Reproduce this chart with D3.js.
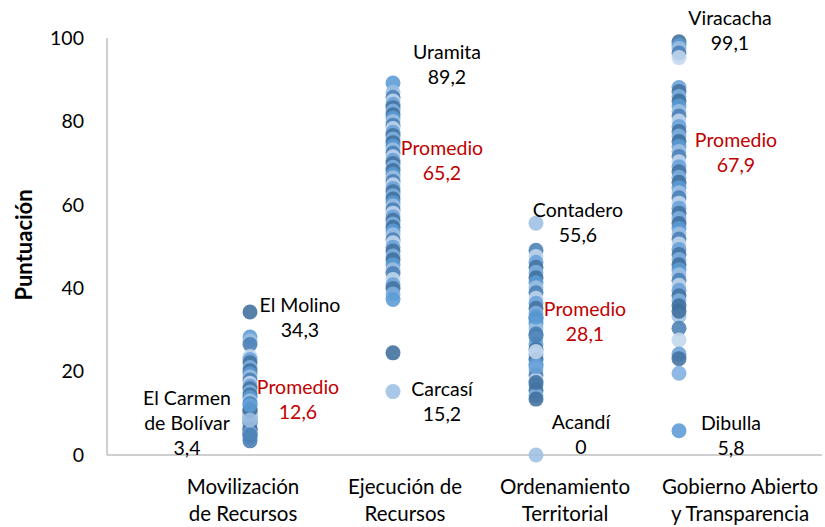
<!DOCTYPE html>
<html>
<head>
<meta charset="utf-8">
<script src="https://cdn.jsdelivr.net/npm/d3@7"></script>
<style>
  body { margin: 0; background: #fff; }
  svg text { font-family: Lato, "Open Sans", sans-serif; }
</style>
</head>
<body>
<svg width="825" height="527"></svg>
<script>
// categories and values
var categories = [["Movilización", "de Recursos"], ["Ejecución de", "Recursos"],
                  ["Ordenamiento", "Territorial"], ["Gobierno Abierto", "y Transparencia"]];

var movilizacion = [34.3, 28.3, 27.4, 26.5, 23.6, 22.9, 22.1, 21.0, 20.2, 19.5, 18.7, 18.0,
    17.2, 16.5, 15.9, 15.1, 14.4, 13.8, 13.0, 12.3, 11.7, 11.1, 10.4, 9.8, 9.2, 8.7, 8.1,
    7.6, 7.0, 6.5, 6.0, 5.5, 5.0, 4.5, 4.0, 3.4, 9.5, 7.8, 6.2, 5.2, 10.8, 12.0, 8.4, 4.8];

var ejecucion = [89.2, 87.0, 85.8, 84.9, 84.1, 83.3, 82.5, 81.6, 80.8, 80.0, 79.1, 78.3,
    77.4, 76.6, 75.8, 74.9, 74.1, 73.2, 72.4, 71.5, 70.7, 69.9, 69.0, 68.2, 67.3, 66.5,
    65.6, 64.8, 63.9, 63.1, 62.2, 61.4, 60.5, 59.7, 58.8, 58.0, 57.1, 56.3, 55.4, 54.6,
    53.7, 52.8, 51.6, 50.9, 49.8, 48.9, 47.7, 46.8, 45.6, 44.4, 43.5, 42.1, 40.8, 39.9,
    38.6, 24.5, 37.3, 15.2];

var ordenamiento = [55.6, 49.1, 47.6, 46.2, 45.0, 43.8, 42.5, 41.3, 40.1, 38.9, 37.6, 36.4,
    35.2, 34.0, 32.7, 31.5, 30.3, 29.0, 27.8, 26.6, 25.4, 24.1, 22.9, 21.7, 20.4, 19.2,
    18.0, 16.8, 15.5, 14.3, 13.4, 33.1, 0, 28.6, 24.8, 21.2, 17.4];

var gobierno = [99.1, 98.2, 97.5, 96.4, 95.3, 88.1, 87.2, 86.0, 84.9, 83.7, 82.4, 81.3,
    80.1, 78.8, 77.6, 76.5, 75.2, 74.0, 72.8, 71.6, 70.3, 69.1, 67.9, 66.6, 65.4, 64.1,
    62.9, 61.7, 60.4, 59.2, 58.0, 56.7, 55.5, 54.3, 53.0, 51.8, 50.6, 49.3, 48.1, 46.9,
    45.6, 44.4, 43.2, 41.9, 40.7, 39.5, 38.2, 37.0, 35.8, 5.8, 33.3, 30.4, 27.6, 24.2,
    23.1, 19.6, 34.5];

var yTicks = [0, 20, 40, 60, 80, 100];

// annotations: [column, lines, dx, y of first line, colour]
var notes = [
    [1, ["El Carmen", "de Bolívar", "3,4"], -63, 398, "#000"],
    [1, ["El Molino", "34,3"], 50, 305, "#000"],
    [1, ["Promedio", "12,6"], 48, 387, "#c00000"],
    [2, ["Uramita", "89,2"], 54, 52, "#000"],
    [2, ["Promedio", "65,2"], 49, 148, "#c00000"],
    [2, ["Carcasí", "15,2"], 49, 389, "#000"],
    [3, ["Contadero", "55,6"], 42, 210, "#000"],
    [3, ["Promedio", "28,1"], 49, 309, "#c00000"],
    [3, ["Acandí", "0"], 45, 422, "#000"],
    [4, ["Viracacha", "99,1"], 51, 18, "#000"],
    [4, ["Promedio", "67,9"], 57, 140, "#c00000"],
    [4, ["Dibulla", "5,8"], 52, 423, "#000"]
];

var palette = ["#3f6e9c", "#5b9bd5", "#9dbfe3", "#4a7fb5", "#c3d7ee", "#6aa0d8", "#43729f", "#80afe0"];
var colorOffset = [0, 1, 2, 0];

var svg = d3.select("svg");

var x = d3.scaleLinear().domain([0, 5]).range([107, 822]);
var y = d3.scaleLinear().domain([0, 100]).range([455, 38]);

// axis lines
svg.append("line")
    .attr("x1", x(0)).attr("x2", x(0))
    .attr("y1", y(100)).attr("y2", y(0))
    .attr("stroke", "#bfbfbf").attr("stroke-width", 1.5);
svg.append("line")
    .attr("x1", x(0)).attr("x2", x(5))
    .attr("y1", y(0)).attr("y2", y(0))
    .attr("stroke", "#bfbfbf").attr("stroke-width", 1.5);

svg.selectAll(".ytick")
    .data(yTicks)
    .enter().append("text")
    .attr("class", "ytick")
    .attr("x", 84)
    .attr("y", function(d){ return y(d); })
    .attr("dy", "0.35em")
    .attr("text-anchor", "end")
    .attr("font-size", 19.5)
    .text(function(d){ return d; });

svg.append("text")
    .attr("transform", "translate(32,245) rotate(-90)")
    .attr("text-anchor", "middle")
    .attr("font-size", 22)
    .attr("font-weight", "bold")
    .text("Puntuación");

// category labels sit in their own boxes under the axis
var catX = [243, 405, 565, 740];
categories.forEach(function(lines, i){
    var t = svg.append("text")
        .attr("text-anchor", "middle")
        .attr("font-size", 20.5);
    lines.forEach(function(s, k){
        t.append("tspan").attr("x", catX[i]).attr("y", 494 + k*27).text(s);
    });
});

// points
var series = [movilizacion, ejecucion, ordenamiento, gobierno];
series.forEach(function(vals, i){
    svg.append("g").selectAll("circle")
        .data(vals)
        .enter().append("circle")
        .attr("cx", x(i + 1))
        .attr("cy", function(d){ return y(d); })
        .attr("r", 7.5)
        .attr("fill", function(d, j){ return palette[(j + colorOffset[i]) % palette.length]; })
        .attr("fill-opacity", 0.88);
});

// annotations
notes.forEach(function(n){
    var t = svg.append("text")
        .attr("text-anchor", "middle")
        .attr("font-size", 19.5)
        .attr("fill", n[4]);
    n[1].forEach(function(s, k){
        t.append("tspan")
            .attr("x", x(n[0]) + n[2])
            .attr("y", n[3] + k*25)
            .attr("dy", "0.35em")
            .text(s);
    });
});
</script>
</body>
</html>
